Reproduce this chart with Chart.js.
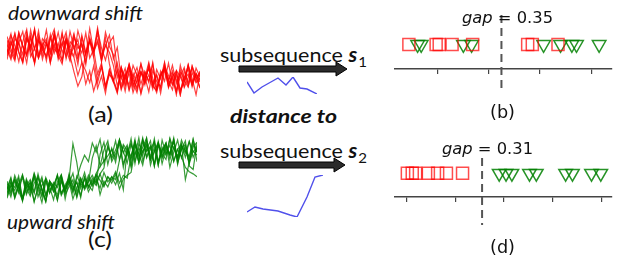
<!DOCTYPE html>
<html>
<head>
<meta charset="utf-8">
<script src="https://cdn.jsdelivr.net/npm/chart.js@4.4.0/dist/chart.umd.min.js"></script>
<style>
  body { margin: 0; background: #fff; }
  #fig { position: relative; width: 622px; height: 269px; overflow: hidden; font-family: Lato, sans-serif; color: #111; }
  #fig canvas, #fig svg { position: absolute; }
  .txt { position: absolute; white-space: nowrap; line-height: 1; transform-origin: left top; }
  .mpl { font-family: "DejaVu Sans", sans-serif; font-size: 16px; }
  .cal { font-size: 20px; }
  .sub { font-size: 14px; position: relative; top: 5px; margin-left: 1px; }
</style>
</head>
<body>
<div id="fig">
  <svg width="622" height="269" style="left:0;top:0">
    <path d="M239,66 L336,66 L336,62 L347,69 L336,76 L336,72 L239,72 Z" fill="#2b2b2b" stroke="#000" stroke-width="1"/>
    <path d="M239,162 L334,162 L334,158 L345,165 L334,172 L334,168 L239,168 Z" fill="#2b2b2b" stroke="#000" stroke-width="1"/>
  </svg>

  <canvas id="panelA" width="193" height="72" style="left:7px;top:25px"></canvas>
  <canvas id="panelC" width="190" height="72" style="left:7px;top:135px"></canvas>
  <canvas id="sub1" width="80" height="27" style="left:242px;top:72px"></canvas>
  <canvas id="sub2" width="86" height="52" style="left:242px;top:170px"></canvas>
  <canvas id="panelB" width="237" height="130" style="left:385px;top:0px"></canvas>
  <canvas id="panelD" width="237" height="139" style="left:385px;top:130px"></canvas>

  <div class="txt cal" data-w="135" style="left:8px;top:2px;font-style:italic">downward shift</div>
  <div class="txt cal" data-w="108" style="left:7px;top:211px;font-style:italic">upward shift</div>
  <div class="txt cal" data-w="25" style="left:88px;top:103px;font-size:21px">(a)</div>
  <div class="txt cal" data-w="24" style="left:88px;top:228px;font-size:21px">(c)</div>

  <div class="txt cal" data-w="147" style="left:220px;top:44px">subsequence <b><i>s</i></b><span class="sub">1</span></div>
  <div class="txt" data-w="107" style="left:230px;top:106px;font-size:19px;font-weight:bold;font-style:italic">distance to</div>
  <div class="txt cal" data-w="147" style="left:220px;top:140px">subsequence <b><i>s</i></b><span class="sub">2</span></div>

  <div class="txt mpl" data-w="91" style="left:462px;top:10px"><i>gap</i> = 0.35</div>
  <div class="txt mpl" data-w="91" style="left:442px;top:141px"><i>gap</i> = 0.31</div>
  <div class="txt mpl" data-w="25" style="left:490px;top:104px;font-size:17px">(b)</div>
  <div class="txt mpl" data-w="25" style="left:490px;top:239px;font-size:17px">(d)</div>
</div>

<script>
// series with a downward shift (panel a), values on a 0-100 scale
const downwardShift = [
  [72,55,88,63,47,80,69,92,58,74,50,83,66,61,90,53,77,70,45,86,62,79,57,93,68,51,75,84,38,12,29,45,20,6,33,25,41,15,9,36,22,47,18,30,4,27,39,14,32,21],
  [60,85,71,49,77,94,56,68,82,52,73,65,89,58,46,79,64,55,30,48,18,36,8,27,42,15,33,21,5,38,24,44,12,29,35,17,46,26,10,31,40,19,28,3,37,23,14,43,25,34],
  [66,52,81,74,59,90,63,48,78,70,55,87,61,75,50,84,67,57,92,72,49,80,64,96,58,71,86,53,69,25,40,11,33,19,46,28,7,37,22,14,42,30,17,35,9,26,44,20,31,13],
  [79,62,50,86,71,58,93,67,54,81,74,47,88,63,76,56,91,69,52,83,60,77,65,89,51,72,62,44,16,31,8,39,24,13,35,27,48,19,6,32,41,22,10,37,28,15,45,26,3,34],
  [57,73,88,61,49,82,70,95,54,66,78,51,85,62,74,90,58,69,80,48,36,20,43,12,29,5,38,24,47,16,33,9,27,41,18,35,22,46,11,30,39,14,26,7,44,23,32,17,40,28],
  [84,67,53,76,91,60,72,48,86,65,57,80,94,62,51,77,69,88,56,73,45,83,64,79,52,90,70,59,27,42,15,34,6,23,46,19,31,11,38,25,48,13,29,36,9,21,44,17,33,24],
  [63,78,55,89,70,47,83,66,92,58,75,61,87,52,71,80,57,35,15,28,62,78,55,20,43,12,31,25,7,39,18,46,28,10,35,22,41,15,30,5,37,24,44,19,33,13,27,40,21,36],
  [70,88,59,77,50,84,65,93,56,72,81,48,68,90,61,79,53,86,67,74,58,95,63,76,49,82,46,21,37,10,28,43,16,33,4,25,40,18,31,12,47,23,36,8,29,41,15,34,20,26],
  [52,76,64,90,71,57,85,46,79,68,93,60,74,55,87,66,50,82,72,61,89,54,66,32,47,14,38,22,9,41,27,17,44,30,6,35,20,48,11,29,39,16,33,24,2,37,19,43,28,12]
];

// series with an upward shift (panel c)
const upwardShift = [
  [20,35,12,28,41,17,31,8,26,38,15,33,22,44,19,29,36,11,27,40,24,34,68,85,57,79,92,63,74,88,55,81,70,94,61,77,86,66,90,58,83,72,95,64,80,87,69,91,76,84],
  [28,14,37,22,9,32,18,41,25,6,35,20,30,43,16,27,38,88,62,26,39,21,33,45,17,36,28,42,31,47,24,82,66,91,74,58,86,70,95,63,79,89,55,76,93,68,84,60,78,72],
  [15,30,23,39,10,27,34,19,42,25,8,36,21,31,44,17,28,38,13,33,26,40,29,47,56,64,71,80,62,93,75,86,58,90,69,83,96,65,77,88,60,81,73,92,67,85,78,70,94,63],
  [33,18,40,26,11,35,22,44,29,14,38,24,31,9,36,20,43,27,34,16,41,30,23,45,37,28,42,33,46,25,39,44,48,78,63,92,70,85,57,88,74,66,95,81,69,87,38,62,83,90],
  [24,39,13,31,45,20,35,7,28,42,17,33,26,10,37,22,46,30,15,40,27,36,44,32,73,90,59,82,68,94,77,61,87,71,96,64,80,92,57,85,75,89,66,83,70,93,79,62,88,76],
  [18,34,27,43,12,30,38,21,46,25,9,36,29,16,41,23,33,47,20,37,28,44,31,39,26,48,35,42,38,65,84,72,95,60,88,76,91,67,82,58,93,74,86,63,80,70,55,49,46,42],
  [26,41,16,32,8,37,23,45,14,30,39,19,34,27,43,11,36,22,40,58,72,63,89,76,94,61,83,70,92,66,87,79,55,85,73,96,68,81,90,62,78,88,71,93,59,84,75,91,69,82],
  [36,21,44,29,13,39,25,47,32,17,41,28,10,35,45,24,38,19,43,31,48,27,40,34,46,30,42,37,49,33,44,40,71,88,62,94,77,84,59,91,69,86,74,96,65,80,92,57,52,89],
  [12,29,38,20,44,26,15,33,41,22,7,36,28,45,18,31,40,24,35,13,42,27,37,30,46,54,86,67,79,93,60,75,89,64,82,71,95,58,77,90,68,84,73,92,61,80,87,66,94,76]
];

// the two subsequences (blue)
const sub1X = [0, 7, 15, 31, 39, 46, 53, 60, 70];
const sub1Y = [12, 1, 7, 16, 9, 17, 6, 5, 0];
const sub2X = [0, 8, 16, 31, 43, 50, 60, 68, 76];
const sub2Y = [5, 10, 8, 6, 2, 0, 20, 40, 42];

// distances to s1 (panel b) and to s2 (panel d)
const distS1Down = [0.45, 0.98, 1.04, 1.29, 1.69, 2.76, 2.85, 3.35];
const distS1Up = [0.62, 0.69, 1.51, 1.67, 3.07, 3.40, 3.62, 3.71, 4.15];
const splitS1 = 2.25;
const ticksS1 = [1, 2, 3, 4];

const distS2Down = [1.02, 1.12, 1.19, 1.45, 1.64, 1.82, 2.15];
const distS2Up = [2.90, 3.04, 3.16, 3.52, 3.66, 4.26, 4.40, 4.79, 4.98];
const splitS2 = 2.55;
const ticksS2 = [1, 2, 3, 4, 5];

const noInteraction = {
  responsive: false,
  animation: false,
  events: [],
  plugins: { legend: { display: false }, tooltip: { enabled: false } }
};

function seriesChart(id, series, color) {
  const labels = series[0].map((v, i) => i);
  new Chart(document.getElementById(id), {
    type: 'line',
    data: {
      labels: labels,
      datasets: series.map(s => ({
        data: s,
        borderColor: color,
        borderWidth: 1.2,
        pointRadius: 0,
        tension: 0
      }))
    },
    options: {
      ...noInteraction,
      layout: { padding: 0 },
      scales: {
        x: { display: false },
        y: { display: false, min: 0, max: 100 }
      }
    }
  });
}

seriesChart('panelA', downwardShift, 'rgba(255,0,0,0.75)');
seriesChart('panelC', upwardShift, 'rgba(0,128,0,0.78)');

function subChart(id, xs, ys, yMax, xMax) {
  new Chart(document.getElementById(id), {
    type: 'line',
    data: {
      datasets: [{
        data: xs.map((x, i) => ({ x: x, y: ys[i] })),
        borderColor: 'rgb(80,80,235)',
        borderWidth: 1.4,
        pointRadius: 0,
        tension: 0
      }]
    },
    options: {
      ...noInteraction,
      layout: { padding: 5 },
      scales: {
        x: { type: 'linear', display: false, min: 0, max: xMax },
        y: { display: false, min: 0, max: yMax }
      }
    }
  });
}

subChart('sub1', sub1X, sub1Y, 17, 70);
subChart('sub2', sub2X, sub2Y, 42, 76);

const gapLine = {
  id: 'gapLine',
  afterDatasetsDraw(chart, args, opts) {
    const x = chart.scales.x.getPixelForValue(opts.value);
    const ctx = chart.ctx;
    ctx.save();
    ctx.strokeStyle = '#555';
    ctx.lineWidth = 2;
    ctx.setLineDash([8, 5]);
    ctx.beginPath();
    ctx.moveTo(x, opts.top);
    ctx.lineTo(x, opts.bottom);
    ctx.stroke();
    ctx.restore();
  }
};

function distChart(id, down, up, split, tickVals, xMin, xMax, pad, axisH, lineTop, lineBottom) {
  new Chart(document.getElementById(id), {
    type: 'scatter',
    data: {
      datasets: [
        {
          data: down.map(v => ({ x: v, y: 0 })),
          pointStyle: 'rect',
          pointRadius: 8.5,
          borderColor: 'rgba(255,0,0,0.7)',
          backgroundColor: 'rgba(0,0,0,0)',
          borderWidth: 1.5
        },
        {
          data: up.map(v => ({ x: v, y: 0 })),
          pointStyle: 'triangle',
          pointRotation: 180,
          pointRadius: 7.8,
          borderColor: 'rgba(0,128,0,0.85)',
          backgroundColor: 'rgba(0,0,0,0)',
          borderWidth: 1.5
        }
      ]
    },
    options: {
      ...noInteraction,
      plugins: {
        legend: { display: false },
        tooltip: { enabled: false },
        gapLine: { value: split, top: lineTop, bottom: lineBottom }
      },
      layout: { padding: pad },
      scales: {
        x: {
          type: 'linear',
          min: xMin,
          max: xMax,
          afterBuildTicks: s => { s.ticks = tickVals.map(v => ({ value: v })); },
          afterFit: s => { s.height = axisH; },
          ticks: { display: false },
          grid: { drawOnChartArea: false, drawTicks: true, tickLength: 5, color: '#444', lineWidth: 1.2 },
          border: { display: true, color: '#444', width: 1.5 }
        },
        y: { display: false, min: -1, max: 1.41 }
      }
    },
    plugins: [gapLine]
  });
}

distChart('panelB', distS1Down, distS1Up, splitS1, ticksS1, 0.18, 4.4,
  { left: 5, right: 0, top: 10, bottom: 0 }, 61, 15, 93);
distChart('panelD', distS2Down, distS2Up, splitS2, ticksS2, 0.767, 5.21,
  { left: 8, right: 0, top: 8, bottom: 0 }, 72, 28, 95);

// squeeze each label to the width it has in the figure
document.querySelectorAll('.txt[data-w]').forEach(el => {
  const w = el.getBoundingClientRect().width;
  el.style.transform = 'scaleX(' + (Number(el.dataset.w) / w) + ')';
});
</script>
</body>
</html>
